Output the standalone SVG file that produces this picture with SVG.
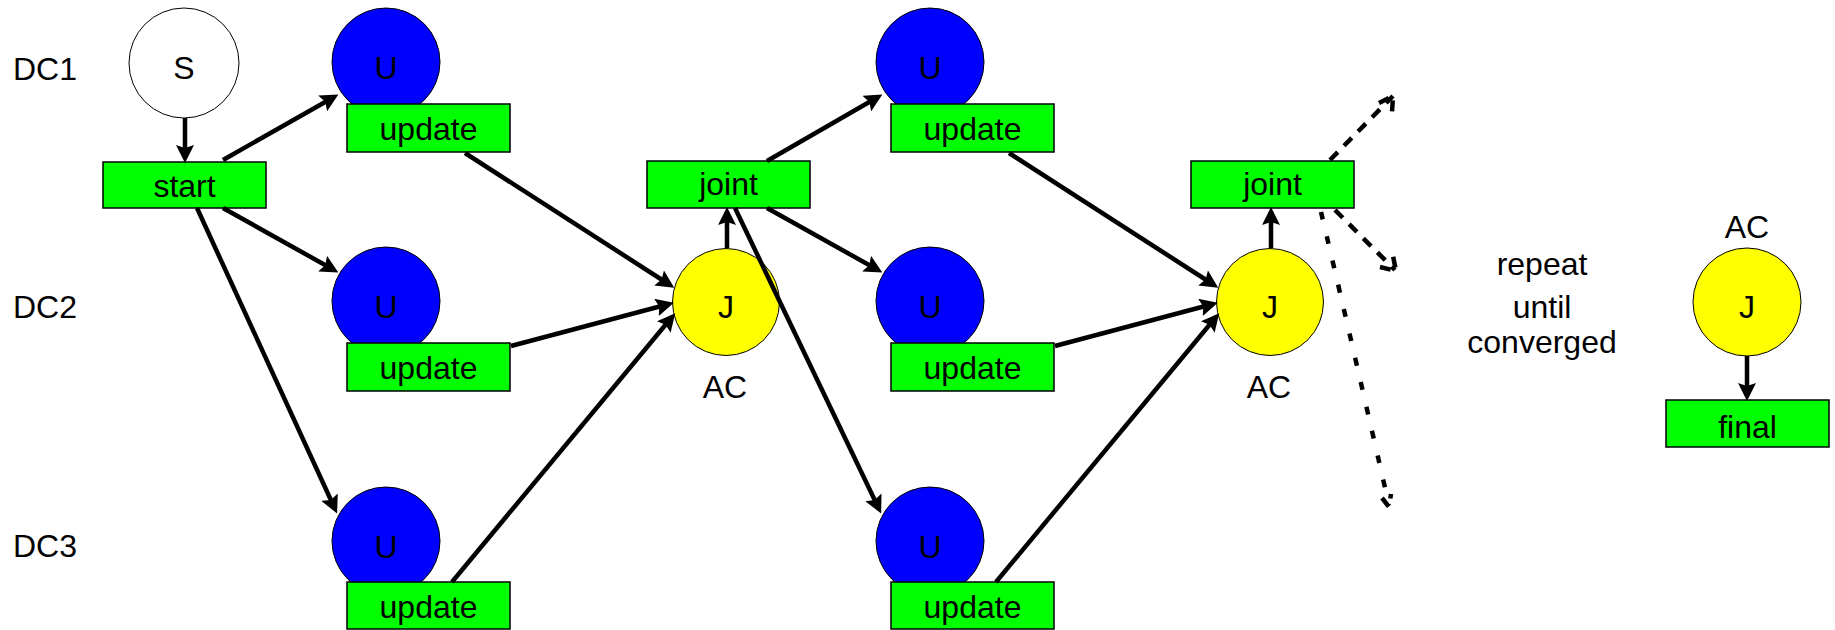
<svg xmlns="http://www.w3.org/2000/svg" width="1835" height="630" viewBox="0 0 1835 630">
<style>
text{font-family:"Liberation Sans",Arial,sans-serif;font-size:32px;fill:#000}
.c{text-anchor:middle}
.box{fill:#00ff00;stroke:#000;stroke-width:1.5}
.u{fill:#0000ff;stroke:#000;stroke-width:1}
.j{fill:#ffff00;stroke:#000;stroke-width:1}
.s{fill:#fff;stroke:#000;stroke-width:1}
.e{stroke:#000;stroke-width:4.5;fill:none;marker-end:url(#ah)}
.d{stroke:#000;stroke-width:4.5;fill:none;stroke-dasharray:11 9}
.dt{stroke:#000;stroke-width:4.5;fill:none;stroke-dasharray:8 17}
</style>
<defs>
<marker id="ah" viewBox="0 0 18 18" refX="13" refY="9" markerWidth="18" markerHeight="18" markerUnits="userSpaceOnUse" orient="auto">
<path d="M0,0 L18,9 L0,18 L3,9 z" fill="#000"/>
</marker>
</defs>

<g id="labels">
<text x="13" y="80">DC1</text>
<text x="13" y="318">DC2</text>
<text x="13" y="557">DC3</text>
<text x="1542" y="275" class="c">repeat</text>
<text x="1542" y="318" class="c">until</text>
<text x="1542" y="353" class="c">converged</text>
</g>

<g id="nodeS"><circle cx="184" cy="63" r="55" class="s"/><text x="184" y="79" class="c">S</text></g>
<g id="nodeStart"><rect x="103" y="162" width="163" height="46" class="box"/><text x="184.5" y="197" class="c">start</text></g>

<g id="nodeU1a"><circle cx="386" cy="62" r="54" class="u"/><text x="386" y="79" class="c">U</text><rect x="347" y="104" width="163" height="48" class="box"/><text x="428.5" y="140" class="c">update</text></g>
<g id="nodeU2a"><circle cx="386" cy="301" r="54" class="u"/><text x="386" y="318" class="c">U</text><rect x="347" y="343" width="163" height="48" class="box"/><text x="428.5" y="379" class="c">update</text></g>
<g id="nodeU3a"><circle cx="386" cy="541" r="54" class="u"/><text x="386" y="558" class="c">U</text><rect x="347" y="582" width="163" height="47" class="box"/><text x="428.5" y="618" class="c">update</text></g>

<g id="nodeJ1"><circle cx="726" cy="302" r="53.5" class="j"/><text x="726" y="318" class="c">J</text><text x="725" y="398" class="c">AC</text></g>
<g id="nodeJoint1"><rect x="647" y="161" width="163" height="47" class="box"/><text x="728.5" y="195" class="c">joint</text></g>

<g id="nodeU1b"><circle cx="930" cy="62" r="54" class="u"/><text x="930" y="79" class="c">U</text><rect x="891" y="104" width="163" height="48" class="box"/><text x="972.5" y="140" class="c">update</text></g>
<g id="nodeU2b"><circle cx="930" cy="301" r="54" class="u"/><text x="930" y="318" class="c">U</text><rect x="891" y="343" width="163" height="48" class="box"/><text x="972.5" y="379" class="c">update</text></g>
<g id="nodeU3b"><circle cx="930" cy="541" r="54" class="u"/><text x="930" y="558" class="c">U</text><rect x="891" y="582" width="163" height="47" class="box"/><text x="972.5" y="618" class="c">update</text></g>

<g id="nodeJ2"><circle cx="1270" cy="302" r="53.5" class="j"/><text x="1270" y="318" class="c">J</text><text x="1269" y="398" class="c">AC</text></g>
<g id="nodeJoint2"><rect x="1191" y="161" width="163" height="47" class="box"/><text x="1272.5" y="195" class="c">joint</text></g>

<g id="nodeJ3"><circle cx="1747" cy="302" r="54" class="j"/><text x="1747" y="318" class="c">J</text><text x="1747" y="238" class="c">AC</text></g>
<g id="nodeFinal"><rect x="1666" y="400" width="163" height="47" class="box"/><text x="1747.5" y="438" class="c">final</text></g>

<g id="connectors">
<line x1="185" y1="118" x2="185" y2="158" class="e"/>
<line x1="223" y1="160" x2="334" y2="97" class="e"/>
<line x1="223" y1="208" x2="334" y2="270" class="e"/>
<line x1="197" y1="208" x2="335" y2="509" class="e"/>
<line x1="465" y1="153" x2="670" y2="285" class="e"/>
<line x1="511" y1="346" x2="669" y2="304" class="e"/>
<line x1="452" y1="582" x2="672" y2="317" class="e"/>
<line x1="727" y1="248" x2="727" y2="212" class="e"/>
<line x1="767" y1="161" x2="878" y2="97" class="e"/>
<line x1="767" y1="208" x2="878" y2="270" class="e"/>
<line x1="735" y1="208" x2="879" y2="509" class="e"/>
<line x1="1009" y1="153" x2="1214" y2="285" class="e"/>
<line x1="1055" y1="346" x2="1213" y2="304" class="e"/>
<line x1="996" y1="582" x2="1216" y2="317" class="e"/>
<line x1="1271" y1="248" x2="1271" y2="212" class="e"/>
<line x1="1747" y1="356" x2="1747" y2="396" class="e"/>
<path d="M1330,160 L1393,96" class="d"/>
<path d="M1379,103 L1393,96 L1392,112" class="d" stroke-dasharray="6 4"/>
<path d="M1335,210 L1395,270" class="d"/>
<path d="M1380,267 L1396,271 L1393,256" class="d" stroke-dasharray="6 4"/>
<path d="M1321,212 Q1342,300 1389,505" class="dt"/>
<path d="M1382,498 L1389,507 L1391,494" class="d" stroke-dasharray="6 4"/>
</g>
</svg>
